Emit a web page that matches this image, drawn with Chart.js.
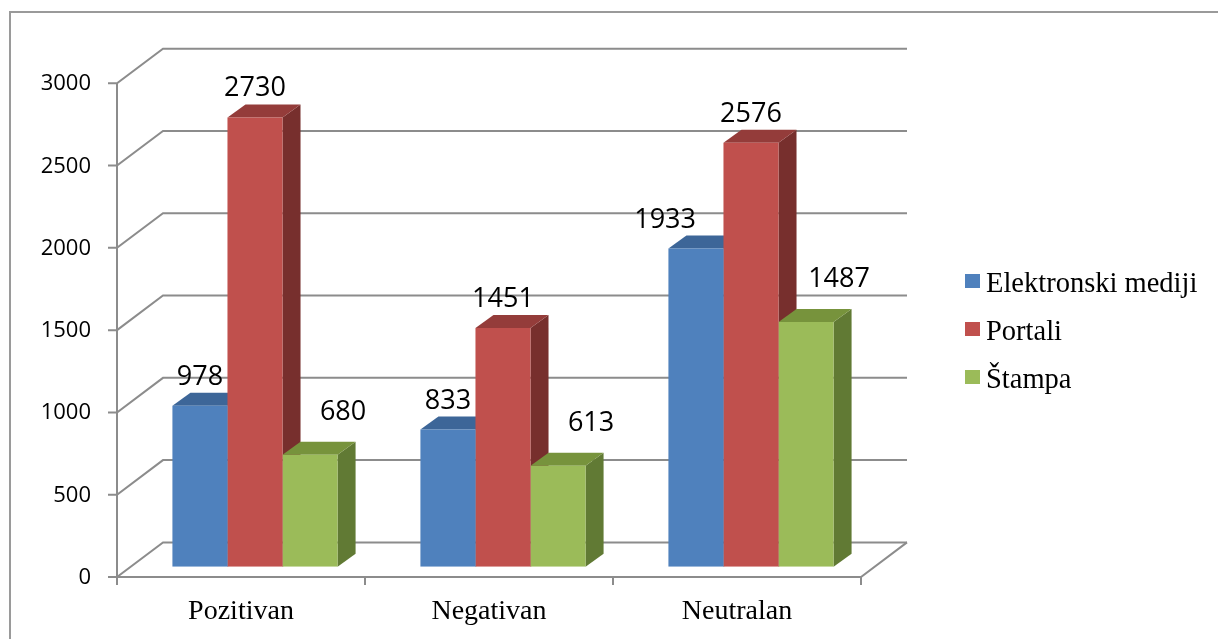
<!DOCTYPE html>
<html>
<head>
<meta charset="utf-8">
<title>Ton izvještavanja</title>
<script src="https://cdn.jsdelivr.net/npm/chart.js@4.4.1/dist/chart.umd.min.js"></script>
<style>
  html, body { margin: 0; padding: 0; background: #fff; overflow: hidden; }
  #wrap { position: relative; width: 1218px; height: 639px; }
  #okvir { position: absolute; left: 9px; top: 11px; width: 1300px; height: 700px; border: 2px solid #9a9a9a; box-sizing: border-box; }
  #grafikon { position: absolute; left: 0; top: 0; }
  #legenda { position: absolute; left: 965px; top: 259px; font-family: 'Liberation Serif', 'Times New Roman', serif; font-size: 28.5px; color: #000; }
  #legenda .stavka { position: relative; height: 48px; line-height: 48px; padding-left: 21px; white-space: nowrap; }
  #legenda .kvadrat { position: absolute; left: 0; top: 15px; width: 15px; height: 14px; }
</style>
</head>
<body>
<div id="wrap">
  <div id="okvir"></div>
  <canvas id="grafikon" width="1218" height="639"></canvas>
  <div id="legenda"></div>
</div>
<script>
// Podaci
const kategorije = ['Pozitivan', 'Negativan', 'Neutralan'];
const elektronskiMediji = [978, 833, 1933];
const portali = [2730, 1451, 2576];
const stampa = [680, 613, 1487];
const yMax = 3000;
const yKorak = 500;

// pomaci za 3D izgled (od ravnine stupaca)
const PREDNJI = { x: -14, y: 10.3 };
const ZADNJI = { x: 32, y: -24.3 };
const DUBINA = { x: 18, y: -13 };

const treciD = {
  id: 'treciD',
  beforeDatasetsDraw(chart) {
    const { ctx, chartArea: a, scales: { x, y } } = chart;
    const fx = a.left + PREDNJI.x;
    const y0 = y.getPixelForValue(0);
    const yV = y.getPixelForValue(y.max);
    ctx.save();

    // mreza, zidovi i pod
    ctx.strokeStyle = '#8c8c8c';
    ctx.lineWidth = 2;
    y.ticks.forEach(t => {
      const py = y.getPixelForValue(t.value);
      ctx.beginPath();
      ctx.moveTo(fx - 9, py + PREDNJI.y);
      ctx.lineTo(fx, py + PREDNJI.y);
      ctx.lineTo(a.left + ZADNJI.x, py + ZADNJI.y);
      ctx.lineTo(a.right + ZADNJI.x, py + ZADNJI.y);
      ctx.stroke();
    });
    ctx.beginPath();
    ctx.moveTo(fx, yV + PREDNJI.y);
    ctx.lineTo(fx, y0 + PREDNJI.y);
    ctx.lineTo(a.right + PREDNJI.x, y0 + PREDNJI.y);
    ctx.lineTo(a.right + ZADNJI.x, y0 + ZADNJI.y);
    ctx.stroke();
    const n = x.ticks.length;
    const w = (a.right - a.left) / n;
    ctx.beginPath();
    for (let i = 0; i <= n; i++) {
      const px = a.left + i * w + PREDNJI.x;
      ctx.moveTo(px, y0 + PREDNJI.y);
      ctx.lineTo(px, y0 + PREDNJI.y + 8);
    }
    ctx.stroke();

    // bocne i gornje strane stupaca, lijevo prema desno; prednje strane crta Chart.js poslije
    chart.data.datasets.forEach((ds, di) => {
      chart.getDatasetMeta(di).data.forEach(bar => {
        const { x: bx, y: by, base, width } = bar.getProps(['x', 'y', 'base', 'width'], true);
        const l = bx - width / 2;
        const r = bx + width / 2;
        ctx.fillStyle = ds.bojaStrane;
        ctx.beginPath();
        ctx.moveTo(r, by);
        ctx.lineTo(r + DUBINA.x, by + DUBINA.y);
        ctx.lineTo(r + DUBINA.x, base + DUBINA.y);
        ctx.lineTo(r, base);
        ctx.closePath();
        ctx.fill();
        ctx.fillStyle = ds.bojaVrha;
        ctx.beginPath();
        ctx.moveTo(l, by);
        ctx.lineTo(l + DUBINA.x, by + DUBINA.y);
        ctx.lineTo(r + DUBINA.x, by + DUBINA.y);
        ctx.lineTo(r, by);
        ctx.closePath();
        ctx.fill();
      });
    });
    ctx.restore();
  },
  // vrijednosti iznad stupaca
  afterDatasetsDraw(chart) {
    const ctx = chart.ctx;
    ctx.save();
    ctx.font = "27px 'Open Sans', sans-serif";
    ctx.fillStyle = '#000';
    ctx.textAlign = 'center';
    ctx.textBaseline = 'alphabetic';
    chart.data.datasets.forEach((ds, di) => {
      const meta = chart.getDatasetMeta(di);
      meta.data.forEach((bar, i) => {
        const tekst = String(ds.data[i]);
        const tw = ctx.measureText(tekst).width;
        let lx = bar.x + ds.pomakOznake.x;
        const ly = bar.y + ds.pomakOznake.y;
        // ako oznaka udara u visi susjedni stupac, pomakni je ulijevo
        if (chart.data.datasets[di + 1]) {
          const nb = chart.getDatasetMeta(di + 1).data[i];
          if (nb.y < ly && lx + tw / 2 > nb.x - nb.width / 2) lx = bar.x - tw / 2;
        }
        ctx.fillText(tekst, lx, ly);
      });
    });
    ctx.restore();
  }
};

const grafikon = new Chart(document.getElementById('grafikon'), {
  type: 'bar',
  data: {
    labels: kategorije,
    datasets: [
      {
        label: 'Elektronski mediji',
        data: elektronskiMediji,
        backgroundColor: '#4f81bd',
        bojaVrha: '#3d6698',
        bojaStrane: '#34557e',
        pomakOznake: { x: 0, y: -21 }
      },
      {
        label: 'Portali',
        data: portali,
        backgroundColor: '#c0504d',
        bojaVrha: '#943c3a',
        bojaStrane: '#772f2d',
        pomakOznake: { x: 0, y: -21 }
      },
      {
        label: 'Štampa',
        data: stampa,
        backgroundColor: '#9bbb59',
        bojaVrha: '#77933c',
        bojaStrane: '#617a34',
        pomakOznake: { x: 33, y: -35 }
      }
    ]
  },
  options: {
    responsive: false,
    animation: false,
    layout: { padding: { top: 73, left: 0, right: 343, bottom: 0 } },
    datasets: {
      bar: { categoryPercentage: 0.666, barPercentage: 1.0, borderWidth: 0 }
    },
    scales: {
      x: {
        grid: { display: false, drawTicks: false },
        border: { display: false },
        afterFit(scale) { scale.height = 72.3; },
        ticks: {
          font: { family: "'Liberation Serif', 'Times New Roman', serif", size: 28 },
          color: '#000',
          padding: 28,
          labelOffset: -14
        }
      },
      y: {
        min: 0,
        max: yMax,
        grid: { display: false, drawTicks: false },
        border: { display: false },
        afterFit(scale) { scale.width = 131; },
        ticks: {
          stepSize: yKorak,
          font: { family: "'Open Sans', sans-serif", size: 22 },
          color: '#000',
          padding: 40,
          labelOffset: 11,
          callback: (v) => String(v)
        }
      }
    },
    plugins: {
      legend: { display: false },
      tooltip: { enabled: true }
    }
  },
  plugins: [treciD]
});

// HTML legenda
const legenda = document.getElementById('legenda');
grafikon.data.datasets.forEach(ds => {
  const stavka = document.createElement('div');
  stavka.className = 'stavka';
  const kvadrat = document.createElement('span');
  kvadrat.className = 'kvadrat';
  kvadrat.style.background = ds.backgroundColor;
  stavka.appendChild(kvadrat);
  stavka.appendChild(document.createTextNode(ds.label));
  legenda.appendChild(stavka);
});
</script>
</body>
</html>
